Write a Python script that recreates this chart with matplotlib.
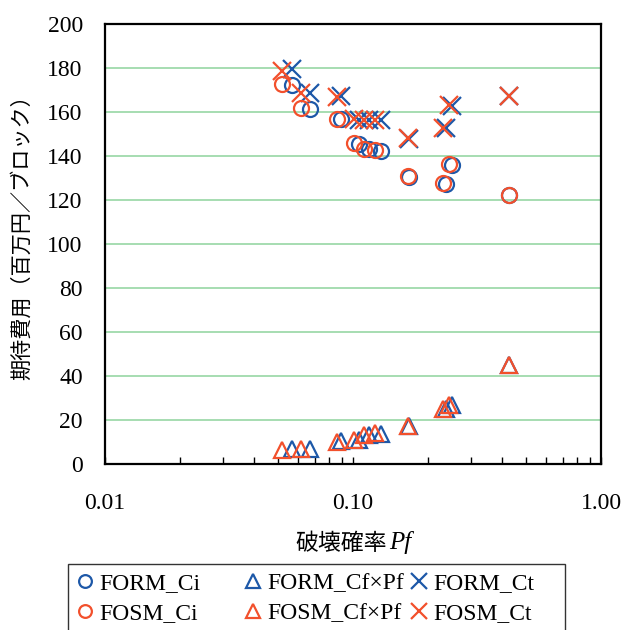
import matplotlib
matplotlib.use("Agg")
import matplotlib.pyplot as plt
from matplotlib.patches import Rectangle
from matplotlib.ticker import FixedLocator, FuncFormatter, LogLocator, NullFormatter

# ---- data ----
pf_fosm = [0.0517, 0.0617, 0.0862, 0.1009, 0.1107, 0.1227, 0.1667, 0.2307, 0.2439, 0.4256]
pf_form = [0.0568, 0.0671, 0.0894, 0.1057, 0.1160, 0.1297, 0.1682, 0.2371, 0.2507, 0.4256]

ci_fosm = [172.6, 161.7, 156.8, 145.9, 143.4, 142.6, 130.9, 127.9, 136.4, 122.3]
ci_form = [172.3, 161.4, 156.8, 145.5, 143.0, 142.5, 130.5, 127.5, 136.0, 122.3]

cf_fosm = [6.5, 6.8, 10.2, 11.0, 13.1, 14.1, 17.1, 25.0, 26.8, 45.0]
cf_form = [6.6, 6.9, 10.3, 11.0, 13.2, 13.7, 17.2, 25.1, 26.8, 45.0]

ct_fosm = [178.6, 168.5, 167.0, 156.8, 156.5, 156.5, 148.0, 152.9, 163.2, 167.3]
ct_form = [179.5, 168.8, 167.2, 156.5, 156.2, 156.2, 147.8, 152.6, 162.8, 167.3]

y_ticks = [0, 20, 40, 60, 80, 100, 120, 140, 160, 180, 200]
x_ticks = [0.01, 0.1, 1.0]

BLUE = "#1d58a8"
ORANGE = "#f2502c"
GRID = "#8ed39c"
SERIF = "Liberation Serif"
CJK = "Noto Sans CJK JP"
W, H = 627, 630

fig = plt.figure(figsize=(6.27, 6.30), dpi=100)
ax = fig.add_axes([105 / W, 1 - 464 / H, (601 - 105) / W, (464 - 24) / H])

ms_o, ms_t, ms_x, mew = 10.8, 11.2, 13.0, 1.6
h_form_ci, = ax.plot(pf_form, ci_form, ls="none", marker="o", ms=ms_o, mfc="none", mec=BLUE, mew=mew, label="FORM_Ci")
h_form_cf, = ax.plot(pf_form, cf_form, ls="none", marker="^", ms=ms_t, mfc="none", mec=BLUE, mew=mew, label="FORM_Cf×Pf")
h_form_ct, = ax.plot(pf_form, ct_form, ls="none", marker="x", ms=ms_x, mec=BLUE, mew=mew, label="FORM_Ct")
h_fosm_ci, = ax.plot(pf_fosm, ci_fosm, ls="none", marker="o", ms=ms_o, mfc="none", mec=ORANGE, mew=mew, label="FOSM_Ci")
h_fosm_cf, = ax.plot(pf_fosm, cf_fosm, ls="none", marker="^", ms=ms_t, mfc="none", mec=ORANGE, mew=mew, label="FOSM_Cf×Pf")
h_fosm_ct, = ax.plot(pf_fosm, ct_fosm, ls="none", marker="x", ms=ms_x, mec=ORANGE, mew=mew, label="FOSM_Ct")

ax.set_xscale("log")
ax.set_xlim(0.01, 1.0)
ax.set_ylim(0, 200)
ax.xaxis.set_major_locator(FixedLocator(x_ticks))
ax.xaxis.set_major_formatter(FuncFormatter(lambda v, p: f"{v:.2f}"))
ax.xaxis.set_minor_locator(LogLocator(base=10, subs=range(2, 10)))
ax.xaxis.set_minor_formatter(NullFormatter())
ax.yaxis.set_major_locator(FixedLocator(y_ticks))

ax.grid(axis="y", color=GRID, lw=1.1)
ax.set_axisbelow(True)
for s in ax.spines.values():
    s.set_linewidth(1.6)
    s.set_color("black")

ax.tick_params(axis="x", which="both", direction="in", length=5, width=1.0,
               labelsize=17, pad=21)
ax.tick_params(axis="y", which="both", length=0, labelsize=17, pad=16)
for lab in ax.get_xticklabels() + ax.get_yticklabels():
    lab.set_fontfamily(SERIF)

# axis titles
fig.text(22 / W, 1 - 232 / H, "期待費用（百万円／ブロック）", rotation=90,
         ha="center", va="center", fontsize=15.2, family=[CJK, "DejaVu Sans"])
fig.text(387 / W, 1 - 543 / H, "破壊確率", ha="right", va="center",
         fontsize=16.5, family=[CJK, "DejaVu Sans"])
fig.text(389 / W, 1 - 543 / H, "Pf", ha="left", va="center",
         fontsize=18, family=SERIF, style="italic")

# legend: frame + three equally spaced columns
fig.add_artist(Rectangle((68 / W, -0.05), (565 - 68) / W, 0.05 + 1 - 564 / H,
                         transform=fig.transFigure, fill=True, facecolor="white",
                         edgecolor="#333333", lw=1.0))
columns = [(h_form_ci, h_fosm_ci, 84), (h_form_cf, h_fosm_cf, 252), (h_form_ct, h_fosm_ct, 418)]
for h1, h2, xm in columns:
    fig.legend(handles=[h1, h2], labels=[h1.get_label(), h2.get_label()],
               loc="center left", bbox_to_anchor=((xm - 8) / W, 1 - 598.5 / H),
               bbox_transform=fig.transFigure, borderaxespad=0, borderpad=0,
               prop={"family": SERIF, "size": 17}, frameon=False,
               markerscale=0.85, handlelength=0.8, handletextpad=0.2,
               labelspacing=0.35)

fig.savefig("out.png", dpi=100)
